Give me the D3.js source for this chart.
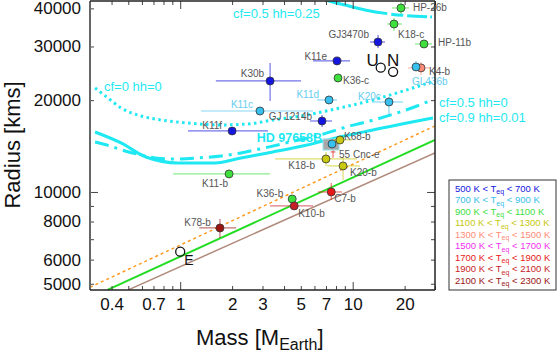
<!DOCTYPE html>
<html><head><meta charset="utf-8">
<script src="https://cdn.jsdelivr.net/npm/d3@7"></script>
<style>
html,body{margin:0;padding:0;background:#fff;}
svg{display:block;font-family:"Liberation Sans",Arial,Helvetica,sans-serif;}
</style></head>
<body>
<svg id="chart" width="559" height="356"></svg>
<script>
// ---------------- DATA ----------------
const planetNames  = ["HP-26b","K18-c","GJ3470b","HP-11b","K4-b","GL436b","K11e","K36-c","K30b","K11d","K20c","K11c","GJ 1214b","K11f","55 Cnc-e","HD 97658B","K68-b","K18-b","K20-b","K11-b","K36-b","K10-b","C7-b","K78-b"];
const planetMass   = [19.05,17.36,14.02,25.90,24.89,23.28,8.11,8.22,3.32,7.29,16.23,2.90,6.64,2.00,7.69,7.59,8.44,7.00,8.79,1.92,4.46,4.58,7.51,1.70];
const planetMassLo = [16.9,15.81,12.60,22.97,20.92,22.07,5.89,8.05,1.61,6.21,12.94,1.32,5.66,1.11,7.45,6.73,7.69,3.55,7.10,0.91,4.35,3.32,6.29,1.29];
const planetMassHi = [21.2,19.31,15.39,28.83,28.06,24.55,9.65,8.40,5.02,8.11,19.57,5.89,7.59,3.23,7.95,8.33,9.91,10.59,11.02,3.32,4.57,5.89,8.67,2.11];
const planetRadius   = [40120,35550,31030,30570,25520,25700,26890,23650,23120,20030,19730,18430,17090,15850,13530,14370,14810,12830,12170,11460,9485,9000,10000,7620];
const planetRadiusLo = [38340,33730,29660,29660,24190,24930,26290,23500,19880,19750,17890,18300,16340,15750,12950,13730,14700,12170,10950,11350,9400,8900,9415,7070];
const planetRadiusHi = [41970,37190,32720,31510,26690,26890,27500,23800,26480,20300,20490,18560,17890,15950,13750,14920,14920,13530,13020,11570,9570,9100,10700,8160];
const planetTeqClass = [2,2,0,2,4,1,0,2,0,1,1,1,0,0,6,1,3,3,3,2,2,7,6,8];

const solarNames  = ["E","U","N"];
const solarMass   = [1.0,14.54,17.15];
const solarRadius = [6371,25559,24764];

const teqLow  = [500,700,900,1100,1300,1500,1700,1900,2100];
const teqHigh = [700,900,1100,1300,1500,1700,1900,2100,2300];

// model curves (mass in Earth masses, radius in km)
const cf05hh025Mass   = [5.65,7.00,9.02,11.79,16.46,28.83];
const cf05hh025Radius = [44600,42610,41030,39520,38340,37490];
const cf0hh0Mass   = [0.321,0.381,0.454,0.593,0.774,1.11,1.72,2.47,3.45,5.44,8.44,13.1,18.8,28.8];
const cf0hh0Radius = [21930,20340,18860,17750,17220,16840,16590,16710,17220,17890,18860,20030,21280,22950];
const cf05hh0Mass   = [0.321,0.392,0.479,0.593,0.714,0.933,1.268,1.724,2.252,2.901,4.33,6.46,9.65,12.6,18.06,23.6,28.8];
const cf05hh0Radius = [14580,14150,13630,13220,12930,12830,12930,13120,13430,13840,14580,15380,16460,17090,18160,19140,20030];
const cf09hh001Mass   = [0.321,0.454,0.633,0.971,1.59,2.25,3.45,5.44,8.44,13.1,20.6,29.2];
const cf09hh001Radius = [15730,14480,13020,12450,12450,12930,13530,14260,15150,15970,16840,17480];
// composition lines
const waterMass = [0.3,30];   const waterRadius = [4870,16470];
const rockMass  = [0.379,30]; const rockRadius  = [4775,14820];
const ironMass  = [0.5,30];   const ironRadius  = [4775,13440];

const xTickLabels = [0.4,0.7,1,2,3,5,7,10,20];
const xMinorTicks = [0.3,0.4,0.5,0.6,0.7,0.8,0.9,2,3,4,5,6,7,8,9,20,30];
const xMajorTicks = [1,10];
const yTickLabels = [5000,6000,8000,10000,20000,30000,40000];
const yMinorTicks = [5000,6000,7000,8000,9000,20000,30000,40000];
const yMajorTicks = [10000];

// ---------------- LAYOUT / STYLE ----------------
const classColors = ["#1515e0","#38c0ee","#3ee03e","#c8c810","#ff8c78","#f030f0","#e81818","#c81e28","#9a1414"];
const cyan = "#1ee8f2";
const labelColor = "#555";
const lightLabel = {"GL436b":1,"K11d":1,"K20c":1,"K11c":1};
const labelOff = {
 "HP-26b":[12,3,"start"],"K18-c":[4,14,"start"],"GJ3470b":[-9,-4,"end"],"HP-11b":[14,2,"start"],
 "K4-b":[8,7,"start"],"GL436b":[-4,18,"start"],"K11e":[-10,-1,"end"],"K36-c":[5,6,"start"],
 "K30b":[-6,-4,"end"],"K11d":[-10,-2,"end"],"K20c":[-31,-2,"start"],"K11c":[-7,-3,"end"],
 "GJ 1214b":[-10,-1,"end"],"K11f":[-10,-2,"end"],"HD 97658B":[-10,-2,"end"],"K68-b":[4,0,"start"],
 "55 Cnc-e":[6,6,"start"],"K18-b":[-11,10,"end"],"K20-b":[7,10,"start"],"K11-b":[-14,13,"middle"],
 "K36-b":[-9,-2,"end"],"K10-b":[4,11,"start"],"C7-b":[3,10,"start"],"K78-b":[-9,-2,"end"]
};

const svg = d3.select("#chart");
svg.append("rect").attr("width",559).attr("height",356).attr("fill","#fff");

const L=90, R=435, T=1, B=290;
const x = d3.scaleLog().domain([0.3,30]).range([L,R]);
const y = d3.scaleLog().domain([4770,42290]).range([B,T]);

svg.append("clipPath").attr("id","clip").append("rect")
  .attr("x",L).attr("y",T).attr("width",R-L).attr("height",B-T);
const plot = svg.append("g").attr("clip-path","url(#clip)");

const line = d3.line().x(d=>x(d[0])).y(d=>y(d[1])).curve(d3.curveMonotoneX);
const zip = (a,b)=>a.map((v,i)=>[v,b[i]]);

// composition lines
plot.append("path").attr("d",line(zip(ironMass,ironRadius))).attr("fill","none").attr("stroke","#b08a7a").attr("stroke-width",1.5);
plot.append("path").attr("d",line(zip(rockMass,rockRadius))).attr("fill","none").attr("stroke","#22dd22").attr("stroke-width",2);
plot.append("path").attr("d",line(zip(waterMass,waterRadius))).attr("fill","none").attr("stroke","#ff9922").attr("stroke-width",1.5).attr("stroke-dasharray","3,3");

// model curves
plot.append("path").attr("d",line(zip(cf05hh025Mass,cf05hh025Radius))).attr("fill","none").attr("stroke",cyan).attr("stroke-width",3).attr("stroke-dasharray","80,4,12,4,20,3");
plot.append("path").attr("d",line(zip(cf0hh0Mass,cf0hh0Radius))).attr("fill","none").attr("stroke",cyan).attr("stroke-width",3).attr("stroke-dasharray","2.5,3.5");
plot.append("path").attr("d",line(zip(cf05hh0Mass,cf05hh0Radius))).attr("fill","none").attr("stroke",cyan).attr("stroke-width",3).attr("stroke-dasharray","14,6,3,6");
plot.append("path").attr("d",line(zip(cf09hh001Mass,cf09hh001Radius))).attr("fill","none").attr("stroke",cyan).attr("stroke-width",3);

// curve labels
const cl = svg.append("g").attr("font-size",13).attr("fill",cyan);
cl.append("text").attr("x",233).attr("y",18).text("cf=0.5 hh=0.25");
cl.append("text").attr("x",104).attr("y",91).text("cf=0 hh=0");
cl.append("text").attr("x",439).attr("y",107).text("cf=0.5 hh=0");
cl.append("text").attr("x",439).attr("y",122).text("cf=0.9 hh=0.01");

// planets
const planets = planetNames.map((n,i)=>({n,m:planetMass[i],mlo:planetMassLo[i],mhi:planetMassHi[i],r:planetRadius[i],rlo:planetRadiusLo[i],rhi:planetRadiusHi[i],c:classColors[planetTeqClass[i]]}));
const pg = plot.append("g");
planets.forEach(p=>{
  const g = pg.append("g");
  if(p.n==="HD 97658B"){
    g.append("rect").attr("x",x(p.mlo)).attr("y",y(p.rhi)).attr("width",x(p.mhi)-x(p.mlo)).attr("height",y(p.rlo)-y(p.rhi))
     .attr("fill","#a8a8a8").attr("stroke","#8fe4f0").attr("stroke-width",1);
  } else {
    g.append("line").attr("x1",x(p.mlo)).attr("x2",x(p.mhi)).attr("y1",y(p.r)).attr("y2",y(p.r)).attr("stroke",p.c).attr("stroke-opacity",0.6).attr("stroke-width",1.2);
    g.append("line").attr("x1",x(p.m)).attr("x2",x(p.m)).attr("y1",y(p.rlo)).attr("y2",y(p.rhi)).attr("stroke",p.c).attr("stroke-opacity",0.6).attr("stroke-width",1.2);
  }
  if(p.n!=="55 Cnc-e"){
    g.append("circle").attr("cx",x(p.m)).attr("cy",y(p.r)).attr("r",4).attr("fill",p.c).attr("stroke","#333").attr("stroke-width",0.8);
  }
});
// labels (not clipped, some are outside)
planets.forEach(p=>{
  const o = labelOff[p.n];
  const t = svg.append("text").attr("x",x(p.m)+o[0]).attr("y",y(p.r)+o[1]).attr("text-anchor",o[2]).text(p.n);
  if(p.n==="HD 97658B"){ t.attr("font-size",12.5).attr("font-weight","bold").attr("fill",cyan); }
  else { t.attr("font-size",10).attr("fill", lightLabel[p.n] ? "#66ccee" : labelColor); }
});

// solar system planets
const solOff = {"E":[4,13,"start",14],"U":[-8,-2,"middle",17],"N":[0,-6,"middle",17]};
solarNames.forEach((n,i)=>{
  svg.append("circle").attr("cx",x(solarMass[i])).attr("cy",y(solarRadius[i])).attr("r",4.5).attr("fill","none").attr("stroke","#111").attr("stroke-width",1.3);
  const o = solOff[n];
  svg.append("text").attr("x",x(solarMass[i])+o[0]).attr("y",y(solarRadius[i])+o[1]).attr("text-anchor",o[2]).attr("font-size",o[3]).attr("fill","#111").text(n);
});

// axes ticks
const axColor = "#444";
function tickAxis(gen, tr){
  const g = svg.append("g").attr("transform",tr).call(gen);
  g.select(".domain").remove();
  g.selectAll("line").attr("stroke",axColor).attr("stroke-width",1);
  g.selectAll("text").remove();
}
tickAxis(d3.axisBottom(x).tickValues(xMinorTicks).tickSizeInner(-4).tickSizeOuter(0),`translate(0,${B})`);
tickAxis(d3.axisBottom(x).tickValues(xMajorTicks).tickSizeInner(-8).tickSizeOuter(0),`translate(0,${B})`);
tickAxis(d3.axisTop(x).tickValues(xMinorTicks).tickSizeInner(-4).tickSizeOuter(0),`translate(0,${T})`);
tickAxis(d3.axisTop(x).tickValues(xMajorTicks).tickSizeInner(-8).tickSizeOuter(0),`translate(0,${T})`);
tickAxis(d3.axisLeft(y).tickValues(yMinorTicks).tickSizeInner(-4).tickSizeOuter(0),`translate(${L},0)`);
tickAxis(d3.axisLeft(y).tickValues(yMajorTicks).tickSizeInner(-8).tickSizeOuter(0),`translate(${L},0)`);
tickAxis(d3.axisRight(y).tickValues(yMinorTicks).tickSizeInner(-4).tickSizeOuter(0),`translate(${R},0)`);
tickAxis(d3.axisRight(y).tickValues(yMajorTicks).tickSizeInner(-8).tickSizeOuter(0),`translate(${R},0)`);

// tick labels
const xl = svg.append("g").attr("transform",`translate(0,${B})`)
  .call(d3.axisBottom(x).tickValues(xTickLabels).tickSize(0).tickPadding(8).tickFormat(d3.format("")));
xl.select(".domain").remove();
xl.selectAll("text").attr("font-size",17).attr("fill","#111").attr("font-family","Liberation Sans, Arial, sans-serif");
const yl = svg.append("g").attr("transform",`translate(${L},0)`)
  .call(d3.axisLeft(y).tickValues(yTickLabels).tickSize(0).tickPadding(9).tickFormat(d3.format("d")));
yl.select(".domain").remove();
yl.selectAll("text").attr("font-size",17).attr("fill","#111").attr("font-family","Liberation Sans, Arial, sans-serif");

// frame
svg.append("line").attr("x1",L).attr("x2",L).attr("y1",T).attr("y2",B).attr("stroke","#666").attr("stroke-width",2);
svg.append("line").attr("x1",L).attr("x2",R).attr("y1",B).attr("y2",B).attr("stroke","#222").attr("stroke-width",1.5);
svg.append("line").attr("x1",R).attr("x2",R).attr("y1",T).attr("y2",B).attr("stroke","#222").attr("stroke-width",1.5);
svg.append("line").attr("x1",L).attr("x2",R).attr("y1",T).attr("y2",T).attr("stroke","#222").attr("stroke-width",1.5);

// axis titles
const xt = svg.append("text").attr("x",196).attr("y",345).attr("font-size",22).attr("fill","#111");
xt.append("tspan").text("Mass [M");
xt.append("tspan").attr("font-size",16).attr("dy",5).text("Earth");
xt.append("tspan").attr("dy",-5).text("]");
svg.append("text").attr("transform","translate(20,145) rotate(-90)").attr("text-anchor","middle")
  .attr("font-size",22).attr("fill","#111").text("Radius [kms]");

// legend
const lg = svg.append("g");
lg.append("rect").attr("x",449).attr("y",180).attr("width",107).attr("height",110).attr("fill","#fff").attr("stroke","#333").attr("stroke-width",1);
teqLow.forEach((lo,i)=>{
  const t = lg.append("text").attr("x",455).attr("y",191.5+i*11.5).attr("font-size",9.5).attr("fill",classColors[i]);
  t.append("tspan").text(`${lo} K < T`);
  t.append("tspan").attr("font-size",7).attr("dy",2.5).text("eq");
  t.append("tspan").attr("dy",-2.5).text(` < ${teqHigh[i]} K`);
});
</script>
</body></html>
